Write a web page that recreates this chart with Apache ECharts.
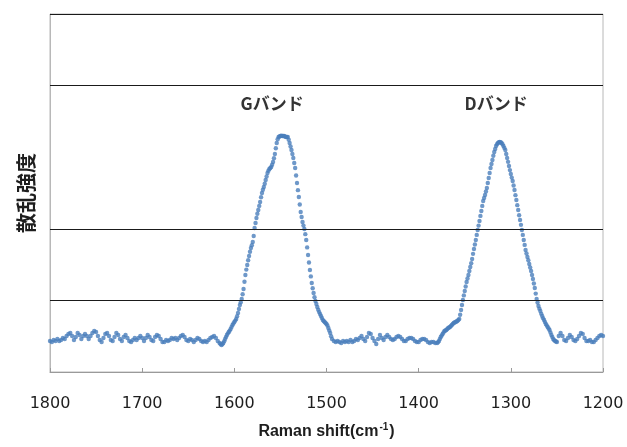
<!DOCTYPE html>
<html><head><meta charset="utf-8">
<script src="https://cdn.jsdelivr.net/npm/echarts@6/dist/echarts.min.js"></script>
<style>html,body{margin:0;padding:0;background:#fff}#c{width:627px;height:447px}</style>
</head><body><div id="c"></div>
<script>
// Raman shift (cm-1) sample positions, main grid
const shiftA = [
1800,1798,1796,1794,1792,1790,1788,1786,1784,1782,1780,1778,1776,1774,1772,1770,1768,1766,1764,1762,
1760,1758,1756,1754,1752,1750,1748,1746,1744,1742,1740,1738,1736,1734,1732,1730,1728,1726,1724,1722,
1720,1718,1716,1714,1712,1710,1708,1706,1704,1702,1700,1698,1696,1694,1692,1690,1688,1686,1684,1682,
1680,1678,1676,1674,1672,1670,1668,1666,1664,1662,1660,1658,1656,1654,1652,1650,1648,1646,1644,1642,
1640,1638,1636,1634,1632,1630,1628,1626,1624,1622,1620,1618,1616,1614,1612,1610,1608,1606,1604,1602,
1600,1598,1596,1594,1592,1590,1588,1586,1584,1582,1580,1578,1576,1574,1572,1570,1568,1566,1564,1562,
1560,1558,1556,1554,1552,1550,1548,1546,1544,1542,1540,1538,1536,1534,1532,1530,1528,1526,1524,1522,
1520,1518,1516,1514,1512,1510,1508,1506,1504,1502,1500,1498,1496,1494,1492,1490,1488,1486,1484,1482,
1480,1478,1476,1474,1472,1470,1468,1466,1464,1462,1460,1458,1456,1454,1452,1450,1448,1446,1444,1442,
1440,1438,1436,1434,1432,1430,1428,1426,1424,1422,1420,1418,1416,1414,1412,1410,1408,1406,1404,1402,
1400,1398,1396,1394,1392,1390,1388,1386,1384,1382,1380,1378,1376,1374,1372,1370,1368,1366,1364,1362,
1360,1358,1356,1354,1352,1350,1348,1346,1344,1342,1340,1338,1336,1334,1332,1330,1328,1326,1324,1322,
1320,1318,1316,1314,1312,1310,1308,1306,1304,1302,1300,1298,1296,1294,1292,1290,1288,1286,1284,1282,
1280,1278,1276,1274,1272,1270,1268,1266,1264,1262,1260,1258,1256,1254,1252,1250,1248,1246,1244,1242,
1240,1238,1236,1234,1232,1230,1228,1226,1224,1222,1220,1218,1216,1214,1212,1210,1208,1206,1204,1202,
1200];
// scattering intensity (a.u.), main grid
const intensityA = [
433,419,447,433,461,433,447,475,461,503,531,545,503,447,489,545,517,461,503,531,
503,461,503,545,573,559,503,447,419,475,531,545,503,447,433,489,545,517,461,433,
489,517,475,433,419,447,475,447,475,503,475,433,475,517,489,447,433,489,517,503,
461,419,419,447,433,447,475,461,475,447,475,503,517,489,447,433,461,447,419,447,
475,461,433,419,433,419,447,475,489,503,475,433,405,377,405,461,517,559,601,656,
698,740,824,936,1020,1159,1355,1494,1620,1732,1816,2011,2151,2262,2374,2500,2584,2681,2779,2835,
2863,2933,3045,3198,3282,3296,3296,3296,3282,3282,3198,3100,2989,2849,2640,2444,2235,2095,1997,1844,
1634,1425,1243,1103,992,908,838,782,726,698,670,615,545,461,433,419,433,419,405,433,
419,433,419,447,419,433,461,447,475,503,461,433,489,545,531,475,433,391,461,517,
475,447,489,517,489,461,447,461,489,503,489,461,433,433,461,475,475,461,433,419,
419,447,461,461,447,419,405,419,419,405,405,433,489,531,573,587,615,628,656,684,
698,712,740,866,1006,1131,1257,1355,1466,1578,1718,1844,1983,2109,2249,2388,2472,2570,2709,2849,
2961,3073,3156,3198,3212,3198,3156,3100,2989,2877,2765,2668,2542,2402,2262,2123,1983,1844,1704,1606,
1508,1411,1299,1173,1020,922,852,782,726,670,628,587,517,461,433,419,503,545,503,447,
433,475,517,489,447,433,461,503,545,531,475,433,433,447,419,419,447,475,503,517,
503];
// extra samples across the two bands
const shiftB = [
1615,1613,1611,1609,1607,1605,1603,1601,1599,1597,1595,1593,1591,1589,1587,1585,1583,1581,1579,1577,
1575,1573,1571,1569,1567,1565,1563,1561,1559,1557,1555,1553,1551,1549,1547,1545,1543,1541,1539,1537,
1535,1533,1531,1529,1527,1525,1523,1521,1519,1517,1515,1513,1511,1509,1507,1505,1503,1501,1499,1497,1495,
1379,1377,1375,1373,1371,1369,1367,1365,1363,1361,1359,1357,1355,1353,1351,1349,1347,1345,1343,1341,
1339,1337,1335,1333,1331,1329,1327,1325,1323,1321,1319,1317,1315,1313,1311,1309,1307,1305,1303,1301,
1299,1297,1295,1293,1291,1289,1287,1285,1283,1281,1279,1277,1275,1273,1271,1269,1267,1265,1263,1261,
1259,1257,1255,1253,1251];
const intensityB = [
390,388,430,490,540,578,630,678,718,778,880,975,1085,1260,1430,1560,1680,1770,1900,2080,
2210,2320,2440,2545,2630,2730,2810,2850,2895,2985,3125,3250,3290,3300,3296,3290,3282,3245,3150,3045,
2920,2745,2540,2340,2165,2045,1925,1740,1530,1335,1170,1045,950,870,810,755,712,684,650,580,500,
415,460,510,552,580,600,622,642,670,691,705,726,800,935,1070,1195,1305,1410,1520,1650,
1780,1915,2045,2180,2320,2430,2520,2640,2780,2905,3020,3115,3180,3208,3210,3180,3130,3045,2935,2820,
2715,2605,2470,2330,2190,2055,1915,1775,1655,1560,1460,1355,1235,1095,970,885,815,752,698,650,
608,552,490,445,425];
const gridLevels = [1000, 2000, 4000, 5000];
const bandNames = ['Gバンド', 'Dバンド'];
const bandShift = [1559, 1316];
const bandLevel = [3743, 3743];

const chart = echarts.init(document.getElementById('c'), null, {renderer: 'canvas'});
const points = shiftA.map((x, i) => [x, intensityA[i]])
  .concat(shiftB.map((x, i) => [x, intensityB[i]]));
const option = {
  animation: false,
  grid: {left: 50, right: 24, top: 14, bottom: 75, show: true, borderColor: '#b8b8b8', borderWidth: 1},
  xAxis: {
    type: 'value', inverse: true, min: 1200, max: 1800, interval: 100,
    axisLine: {lineStyle: {color: '#9a9a9a', width: 1}},
    axisTick: {inside: true, length: 4, lineStyle: {color: '#9a9a9a'}},
    axisLabel: {margin: 24, color: '#1e1e1e', fontSize: 16, fontFamily: 'DejaVu Sans', formatter: v => String(v)},
    splitLine: {show: false},
    name: '{a|Raman shift(cm}{s|-1}{a|)}',
    nameLocation: 'middle', nameGap: 50,
    nameTextStyle: {
      rich: {
        a: {fontSize: 16, fontWeight: 'bold', color: '#1e1e1e', fontFamily: 'Liberation Sans', lineHeight: 20},
        s: {fontSize: 10, fontWeight: 'bold', color: '#1e1e1e', fontFamily: 'Liberation Sans', verticalAlign: 'top', lineHeight: 20, padding: [0, 1, 0, 1]}
      }
    }
  },
  yAxis: {
    type: 'value', min: 0, max: 5000, interval: 1000,
    axisLabel: {show: false}, axisTick: {show: false},
    axisLine: {show: true, lineStyle: {color: '#b8b8b8'}},
    splitLine: {show: false},
    name: '散乱強度', nameLocation: 'middle', nameRotate: 90, nameGap: 14,
    nameTextStyle: {fontSize: 20, fontWeight: 'bold', color: '#1e1e1e', fontFamily: 'Noto Sans CJK JP'}
  },
  series: [
    {
      type: 'scatter', data: points, symbol: 'circle', symbolSize: 4.4,
      itemStyle: {color: '#4a7ebb'}, z: 3,
      markLine: {
        silent: true, symbol: 'none', label: {show: false},
        lineStyle: {color: '#1a1a1a', width: 1.2, type: 'solid'},
        data: gridLevels.map(v => ({yAxis: v}))
      }
    },
    {
      type: 'scatter', symbolSize: 0, silent: true,
      data: bandNames.map((n, i) => ({name: n, value: [bandShift[i], bandLevel[i]]})),
      label: {show: true, position: 'inside', formatter: '{b}', fontSize: 17, fontWeight: 'bold', color: '#000', fontFamily: 'Noto Sans CJK JP'}
    }
  ]
};
chart.setOption(option);
</script>
</body></html>
